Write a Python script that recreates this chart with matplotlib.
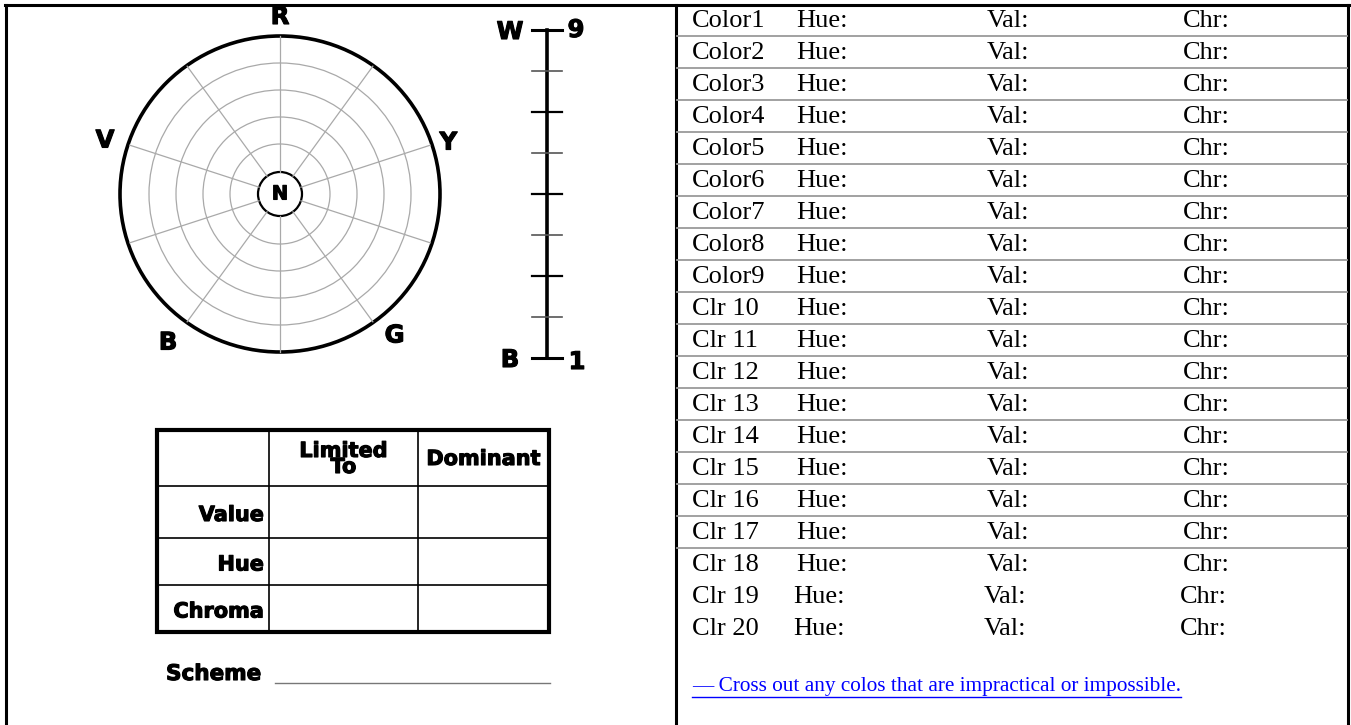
import numpy as np
import matplotlib.pyplot as plt
import matplotlib.patheffects as pe
from matplotlib.patches import Ellipse, Circle, Rectangle

# hue wheel
hue_labels = ["R", "Y", "G", "B", "V"]
hue_angles = [90, 17, -51, -127, 163]  # degrees, standard orientation
spoke_angles = np.arange(0, 360, 36)
ring_radii = [50, 77, 104, 131]

# value scale
value_levels = [9, 8, 7, 6, 5, 4, 3, 2, 1]

# summary table
table_cols = ["Limited\nTo", "Dominant"]
table_rows = ["Value", "Hue", "Chroma"]

# colour list
color_names = ["Color1", "Color2", "Color3", "Color4", "Color5", "Color6",
               "Color7", "Color8", "Color9", "Clr 10", "Clr 11", "Clr 12",
               "Clr 13", "Clr 14", "Clr 15", "Clr 16", "Clr 17", "Clr 18",
               "Clr 19", "Clr 20"]
fields = ["Hue:", "Val:", "Chr:"]
note = "— Cross out any colos that are impractical or impossible."

W, H = 1351, 725
fig = plt.figure(figsize=(W / 100, H / 100), dpi=100)
ax = fig.add_axes([0, 0, 1, 1])
ax.set_xlim(0, W)
ax.set_ylim(H, 0)
ax.axis("off")

# fake an Arial Black look with a thin stroke
heavy = dict(family="DejaVu Sans", fontweight="bold",
             path_effects=[pe.Stroke(linewidth=0.8, foreground="black"), pe.Normal()])
serif = dict(family="Liberation Serif")

# frame
ax.plot([5, 1349], [5, 5], color="black", lw=2.2)
for x in [6, 676, 1348]:
    ax.plot([x, x], [5, H], color="black", lw=2.2)

# --- hue wheel ---
cx, cy = 280, 194
R_out = 158
for r in ring_radii:
    ax.add_patch(Circle((cx, cy), r, fill=False, ec="#a9a9a9", lw=0.9))
for a in spoke_angles:
    t = np.deg2rad(90 - a)
    ax.plot([cx + 22 * np.cos(t), cx + R_out * np.cos(t)],
            [cy - 22 * np.sin(t), cy - R_out * np.sin(t)],
            color="#a9a9a9", lw=0.9)
ax.add_patch(Ellipse((cx, cy), 2 * 160, 2 * R_out, fill=False, ec="black", lw=2.6))
ax.add_patch(Circle((cx, cy), 22, fc="white", ec="black", lw=1.6))
ax.text(cx, cy, "N", ha="center", va="center", fontsize=14, **heavy)

label_r = [177, 176, 182, 186, 183]
for lab, ang, lr in zip(hue_labels, hue_angles, label_r):
    t = np.deg2rad(ang)
    ax.text(cx + lr * np.cos(t), cy - lr * np.sin(t), lab,
            ha="center", va="center", fontsize=17.5, **heavy)

# --- value scale ---
sx, top, bot = 547, 30, 358
ys = np.linspace(top, bot, len(value_levels))
ax.plot([sx, sx], [top, bot], color="black", lw=2.6)
for i, (v, y) in enumerate(zip(value_levels, ys)):
    c = "black" if i % 2 == 0 or i == len(value_levels) - 1 else "#555555"
    lw = 2.2 if i in (0, len(value_levels) - 1) else (1.6 if i % 2 == 0 else 1.2)
    ax.plot([sx - 15, sx + 15], [y, y], color=c, lw=lw)
ax.text(sx - 37, top + 2, "W", ha="center", va="center", fontsize=17.5, **heavy)
ax.text(sx + 29, top, str(value_levels[0]), ha="center", va="center", fontsize=17.5, **heavy)
ax.text(sx - 37, bot + 2, "B", ha="center", va="center", fontsize=17.5, **heavy)
ax.text(sx + 30, bot + 4, str(value_levels[-1]), ha="center", va="center", fontsize=17.5, **heavy)

# --- table ---
tx0, tx1 = 157, 549
ty0, ty1 = 430, 632
col_x = [tx0, 269, 418, tx1]
row_y = [ty0, 486, 538, 585, ty1]
for x in col_x[1:-1]:
    ax.plot([x, x], [ty0, ty1], color="black", lw=1.2)
for y in row_y[1:-1]:
    ax.plot([tx0, tx1], [y, y], color="black", lw=1.2)
ax.add_patch(Rectangle((tx0, ty0), tx1 - tx0, ty1 - ty0, fill=False, ec="black", lw=3))
for j, lab in enumerate(table_cols):
    ax.text((col_x[j + 1] + col_x[j + 2]) / 2, (row_y[0] + row_y[1]) / 2 + 1, lab,
            ha="center", va="center", fontsize=15, linespacing=0.75, **heavy)
for i, lab in enumerate(table_rows):
    ax.text(col_x[1] - 5, (row_y[i + 1] + row_y[i + 2]) / 2 + 3, lab,
            ha="right", va="center", fontsize=15, **heavy)

ax.text(166, 674, "Scheme", ha="left", va="center", fontsize=15.5, **heavy)
ax.plot([275, 550], [683, 683], color="#777777", lw=1)

# --- colour list ---
row_h = 32
for k, name in enumerate(color_names):
    y = 21 + row_h * k
    dx = -3 if k >= 18 else 0
    ax.text(692, y, name, ha="left", va="center", fontsize=19, **serif)
    for fx, f in zip([796, 987, 1183], fields):
        ax.text(fx + dx, y, f, ha="left", va="center", fontsize=19, **serif)
    if k < 17:
        ax.plot([677, 1347], [36 + row_h * k] * 2, color="#9a9a9a", lw=1.3)

ax.text(692, 687, note, ha="left", va="center", fontsize=15.3, color="#0000ff", **serif)
ax.plot([692, 1181], [697, 697], color="#0000ff", lw=1)

fig.savefig("out.png", dpi=100)
